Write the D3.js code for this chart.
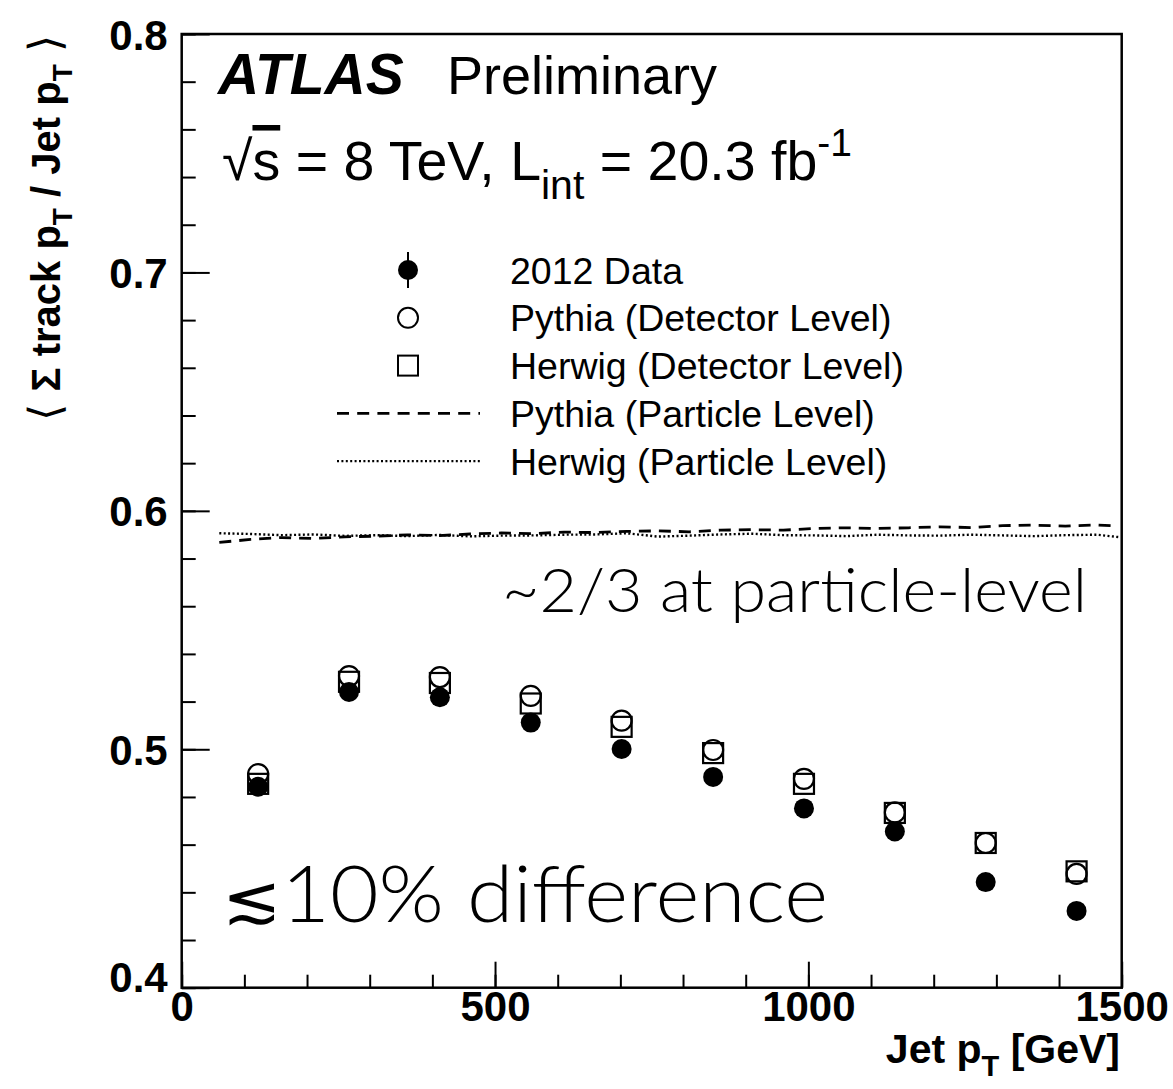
<!DOCTYPE html>
<html>
<head>
<meta charset="utf-8">
<script src="https://cdn.jsdelivr.net/npm/d3@7"></script>
<style>
  body { margin: 0; background: #fff; }
  text { font-family: "Liberation Sans", Arial, Helvetica, sans-serif; fill: #000; }
  .light { font-family: "Lato", "Open Sans", "Liberation Sans", sans-serif; font-weight: 300; }
</style>
</head>
<body>
<svg id="chart" width="1173" height="1089"></svg>
<script>
// Mean ratio of summed track pT to jet pT, per jet-pT bin
const jetPt = [122, 267, 412, 557, 702, 848, 993, 1138, 1283, 1428];
const data2012 = [0.4843, 0.5240, 0.5218, 0.5112, 0.5001, 0.4884, 0.4752, 0.4655, 0.4443, 0.4322];
const pythiaDetector = [0.4896, 0.5307, 0.5303, 0.5224, 0.5120, 0.4997, 0.4876, 0.4735, 0.4607, 0.4477];
const herwigDetector = [0.4855, 0.5283, 0.5278, 0.5192, 0.5094, 0.4984, 0.4855, 0.4733, 0.4607, 0.4488];

// Particle-level curves
const particlePt = [60, 110, 160, 210, 260, 310, 360, 410, 460, 510, 560, 610, 660, 710, 760,
                    810, 860, 910, 960, 1010, 1060, 1110, 1160, 1210, 1260, 1310, 1360, 1410, 1460, 1495];
const pythiaParticle = [0.5868, 0.5880, 0.5888, 0.5884, 0.5891, 0.5894, 0.5899, 0.5896, 0.5903, 0.5907,
                        0.5904, 0.5911, 0.5909, 0.5914, 0.5916, 0.5912, 0.5919, 0.5921, 0.5919, 0.5926,
                        0.5929, 0.5926, 0.5929, 0.5933, 0.5930, 0.5938, 0.5940, 0.5936, 0.5941, 0.5936];
const herwigParticle = [0.5906, 0.5903, 0.5898, 0.5901, 0.5895, 0.5898, 0.5894, 0.5899, 0.5893, 0.5896,
                        0.5897, 0.5900, 0.5901, 0.5906, 0.5892, 0.5896, 0.5901, 0.5904, 0.5898, 0.5897,
                        0.5894, 0.5900, 0.5897, 0.5896, 0.5900, 0.5897, 0.5894, 0.5898, 0.5900, 0.5890];

const xMajorTicks = [0, 500, 1000, 1500];
const xMinorTicks = d3.range(0, 1501, 100);
const yMajorTicks = [0.4, 0.5, 0.6, 0.7, 0.8];
const yMinorTicks = d3.range(0.4, 0.8001, 0.02);

const legendLabels = ["2012 Data", "Pythia (Detector Level)", "Herwig (Detector Level)",
                      "Pythia (Particle Level)", "Herwig (Particle Level)"];

const frame = { left: 181.7, right: 1121.7, top: 34, bottom: 987.7 };

const svg = d3.select("#chart");
const x = d3.scaleLinear().domain([0, 1500]).range([frame.left, frame.right]);
const y = d3.scaleLinear().domain([0.4, 0.8]).range([frame.bottom, frame.top]);

// Axes: minor ticks first, then major ticks with labels
function drawAxis(axisGen, tr) {
  const g = svg.append("g").attr("transform", tr).call(axisGen);
  g.select(".domain").remove();
  g.selectAll(".tick line").attr("stroke", "#000").attr("stroke-width", 2);
  return g;
}
drawAxis(d3.axisBottom(x).tickValues(xMinorTicks).tickSize(-13).tickFormat(""),
         `translate(0,${frame.bottom})`);
const gx = drawAxis(d3.axisBottom(x).tickValues(xMajorTicks).tickSize(-26).tickPadding(10)
         .tickFormat(d3.format("d")), `translate(0,${frame.bottom})`);
gx.selectAll(".tick text").attr("font-size", 42).attr("font-weight", "bold")
  .attr("dy", null).attr("y", 33);

drawAxis(d3.axisLeft(y).tickValues(yMinorTicks).tickSize(-14).tickFormat(""),
         `translate(${frame.left},0)`);
const gy = drawAxis(d3.axisLeft(y).tickValues(yMajorTicks).tickSize(-28).tickPadding(14)
         .tickFormat(d3.format(".1f")), `translate(${frame.left},0)`);
gy.selectAll(".tick text").attr("font-size", 42).attr("font-weight", "bold")
  .attr("x", -14).attr("dy", d => d === 0.4 ? "0.1em" : "0.36em");

svg.append("rect")
  .attr("x", frame.left).attr("y", frame.top)
  .attr("width", frame.right - frame.left).attr("height", frame.bottom - frame.top)
  .attr("fill", "none").attr("stroke", "#000").attr("stroke-width", 2.5);

// Particle-level lines
const line = d3.line().x(d => x(d[0])).y(d => y(d[1]));
svg.append("path")
  .datum(d3.zip(particlePt, pythiaParticle))
  .attr("d", line).attr("fill", "none").attr("stroke", "#000")
  .attr("stroke-width", 2.8).attr("stroke-dasharray", "12,8");
svg.append("path")
  .datum(d3.zip(particlePt, herwigParticle))
  .attr("d", line).attr("fill", "none").attr("stroke", "#000")
  .attr("stroke-width", 2.4).attr("stroke-dasharray", "2,2.4");

// Detector-level markers
const R = 10;
svg.append("g").selectAll("rect").data(d3.zip(jetPt, herwigDetector)).join("rect")
  .attr("x", d => x(d[0]) - R).attr("y", d => y(d[1]) - R)
  .attr("width", 2 * R).attr("height", 2 * R)
  .attr("fill", "none").attr("stroke", "#000").attr("stroke-width", 2.2);
svg.append("g").selectAll("circle").data(d3.zip(jetPt, pythiaDetector)).join("circle")
  .attr("cx", d => x(d[0])).attr("cy", d => y(d[1])).attr("r", R)
  .attr("fill", "none").attr("stroke", "#000").attr("stroke-width", 2.2);
svg.append("g").selectAll("circle").data(d3.zip(jetPt, data2012)).join("circle")
  .attr("cx", d => x(d[0])).attr("cy", d => y(d[1])).attr("r", R)
  .attr("fill", "#000");

// Legend
const legX = 408, legTextX = 510, legY0 = 270, legDy = 47.8;
const leg = svg.append("g");
leg.selectAll("text").data(legendLabels).join("text")
  .attr("x", legTextX).attr("y", (d, i) => legY0 + i * legDy)
  .attr("dy", "0.36em").attr("font-size", 37.5).text(d => d);
leg.append("line").attr("x1", legX).attr("x2", legX)
  .attr("y1", legY0 - 18).attr("y2", legY0 + 18).attr("stroke", "#000").attr("stroke-width", 2);
leg.append("circle").attr("cx", legX).attr("cy", legY0).attr("r", R).attr("fill", "#000");
leg.append("circle").attr("cx", legX).attr("cy", legY0 + legDy).attr("r", R)
  .attr("fill", "none").attr("stroke", "#000").attr("stroke-width", 2);
leg.append("rect").attr("x", legX - R).attr("y", legY0 + 2 * legDy - R)
  .attr("width", 2 * R).attr("height", 2 * R)
  .attr("fill", "none").attr("stroke", "#000").attr("stroke-width", 2);
leg.append("line").attr("x1", 337).attr("x2", 480)
  .attr("y1", legY0 + 3 * legDy).attr("y2", legY0 + 3 * legDy)
  .attr("stroke", "#000").attr("stroke-width", 2.6).attr("stroke-dasharray", "12,8.2");
leg.append("line").attr("x1", 337).attr("x2", 480)
  .attr("y1", legY0 + 4 * legDy).attr("y2", legY0 + 4 * legDy)
  .attr("stroke", "#000").attr("stroke-width", 2.2).attr("stroke-dasharray", "2,2.4");

// ATLAS label
const atlas = svg.append("text").attr("x", 218).attr("y", 94).attr("font-size", 57);
atlas.append("tspan").attr("font-weight", "bold").attr("font-style", "italic").text("ATLAS");
atlas.append("tspan").attr("x", 447).attr("font-size", 54).text("Preliminary");

const lumi = svg.append("text").attr("x", 222).attr("y", 180).attr("font-size", 55.5);
lumi.append("tspan").attr("font-weight", "300").text("√");
lumi.append("tspan").style("text-decoration", "overline").text("s");
lumi.append("tspan").text(" = 8 TeV, L");
lumi.append("tspan").attr("font-size", 41).attr("dy", 19).text("int");
lumi.append("tspan").attr("dy", -19).text(" = 20.3 fb");
lumi.append("tspan").attr("font-size", 39).attr("dy", -24).text("-1");

// Annotations
svg.append("text").attr("class", "light").attr("x", 502).attr("y", 612)
  .attr("font-size", 62).attr("textLength", 585).attr("lengthAdjust", "spacingAndGlyphs")
  .text("~2/3 at particle-level");
const diff = svg.append("text").attr("class", "light").attr("x", 222).attr("y", 922)
  .attr("font-size", 78).attr("textLength", 606).attr("lengthAdjust", "spacingAndGlyphs");
diff.append("tspan").attr("font-family", "'DejaVu Sans', sans-serif").attr("font-weight", "200")
  .attr("font-size", 66).text("≲");
diff.append("tspan").text("10% difference");

// Axis titles
const xt = svg.append("text").attr("x", 1120).attr("y", 1063)
  .attr("text-anchor", "end").attr("font-size", 41).attr("font-weight", "bold");
xt.append("tspan").text("Jet p");
xt.append("tspan").attr("font-size", 29).attr("dy", 13).text("T");
xt.append("tspan").attr("dy", -13).text(" [GeV]");

const yt = svg.append("text")
  .attr("transform", "translate(60,35) rotate(-90)")
  .attr("text-anchor", "end").attr("font-size", 40).attr("font-weight", "bold");
yt.append("tspan").attr("font-weight", "normal").attr("font-size", 44).text("⟨ ");
yt.append("tspan").text("Σ track p");
yt.append("tspan").attr("font-size", 28).attr("dy", 12).text("T");
yt.append("tspan").attr("dy", -12).text(" / Jet p");
yt.append("tspan").attr("font-size", 28).attr("dy", 12).text("T");
yt.append("tspan").attr("dy", -12).attr("font-weight", "normal").attr("font-size", 44).text(" ⟩");
</script>
</body>
</html>
